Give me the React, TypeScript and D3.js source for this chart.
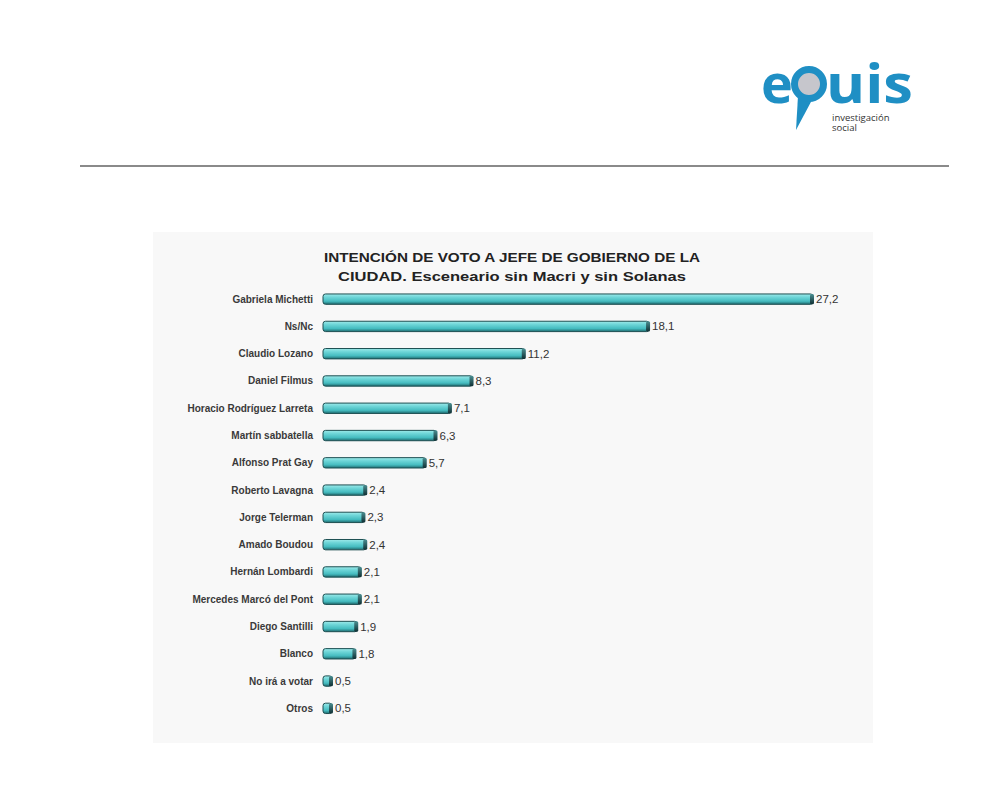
import React from "react";
import * as d3 from "d3";

const categories = [
  "Gabriela Michetti",
  "Ns/Nc",
  "Claudio Lozano",
  "Daniel Filmus",
  "Horacio Rodríguez Larreta",
  "Martín sabbatella",
  "Alfonso Prat Gay",
  "Roberto Lavagna",
  "Jorge Telerman",
  "Amado Boudou",
  "Hernán Lombardi",
  "Mercedes Marcó del Pont",
  "Diego Santilli",
  "Blanco",
  "No irá a votar",
  "Otros",
];
const values = [27.2, 18.1, 11.2, 8.3, 7.1, 6.3, 5.7, 2.4, 2.3, 2.4, 2.1, 2.1, 1.9, 1.8, 0.5, 0.5];
const titleLines = [
  "INTENCIÓN DE VOTO A JEFE DE GOBIERNO DE LA",
  "CIUDAD.  Esceneario sin Macri y sin Solanas",
];

export default function App() {
  const W = 1000;
  const H = 799;
  const x0 = 323;
  const x = d3.scaleLinear().domain([0, 27.2]).range([x0, 813]);
  const y = d3
    .scaleBand<string>()
    .domain(categories)
    .range([285.5, 722])
    .paddingInner(0.62)
    .paddingOuter(0.31);
  const bh = y.bandwidth();
  const fmt = (v: number) => d3.format(".1f")(v).replace(".", ",");
  const blue = "#1f8fc4";

  return (
    <svg
      width={W}
      height={H}
      style={{ position: "absolute", left: 0, top: 0, background: "#fff" }}
      fontFamily="Arial, 'Liberation Sans', sans-serif"
    >
      <defs>
        <linearGradient id="barGrad" x1="0" y1="0" x2="0" y2="1">
          <stop offset="0" stopColor="#9feaea" />
          <stop offset="0.3" stopColor="#6fd6d8" />
          <stop offset="0.7" stopColor="#45bcc0" />
          <stop offset="1" stopColor="#1f6a6e" />
        </linearGradient>
        <linearGradient id="capGrad" x1="0" y1="0" x2="0" y2="1">
          <stop offset="0" stopColor="#4a8f92" />
          <stop offset="1" stopColor="#102f33" />
        </linearGradient>
      </defs>

      {/* Logo */}
      <g>
        <text x={761} y={103} fontSize={54} fontWeight={700} fill={blue} fontFamily="'Open Sans', Arial, sans-serif">e</text>
        <path d="M798,96 L796,130 L812,100 Z" fill={blue} />
        <circle cx={809} cy={84} r={14.5} fill="#c6c6cc" stroke={blue} strokeWidth={7} />
        <text x={826} y={103} fontSize={54} fontWeight={700} fill={blue} textLength={87} lengthAdjust="spacingAndGlyphs" fontFamily="'Open Sans', Arial, sans-serif">uis</text>
        <text x={832} y={121} fontSize={9.5} fill="#333" fontFamily="'Open Sans', Arial, sans-serif">investigación</text>
        <text x={832} y={131} fontSize={9.5} fill="#333" fontFamily="'Open Sans', Arial, sans-serif">social</text>
      </g>

      {/* separator */}
      <line x1={80} x2={949} y1={166} y2={166} stroke="#8a8a8a" strokeWidth={2} />

      {/* chart panel */}
      <rect x={153} y={232} width={720} height={511} fill="#f8f8f8" />

      {/* title */}
      {titleLines.map((t, i) => (
        <text
          key={i}
          x={512}
          y={262 + i * 19}
          textAnchor="middle"
          fontSize={13.5}
          fontWeight={700}
          fill="#222"
          textLength={i === 0 ? 376 : 348}
          lengthAdjust="spacingAndGlyphs"
        >
          {t}
        </text>
      ))}

      {/* bars */}
      {categories.map((c, i) => {
        const yy = y(c)!;
        const xe = x(values[i]);
        return (
          <g key={c}>
            <text
              x={313}
              y={yy + bh / 2 + 3.5}
              textAnchor="end"
              fontSize={10}
              fontWeight={700}
              fill="#3a3a3a"
            >
              {c}
            </text>
            <rect
              x={x0}
              y={yy}
              width={xe - x0}
              height={bh}
              rx={2.5}
              fill="url(#barGrad)"
              stroke="#1d4f52"
              strokeWidth={1}
            />
            <rect x={xe - 3} y={yy} width={4} height={bh} rx={1.5} fill="url(#capGrad)" />
            <text
              x={xe + 3}
              y={yy + bh / 2 + 4}
              fontSize={11.5}
              fill="#333"
            >
              {fmt(values[i])}
            </text>
          </g>
        );
      })}
    </svg>
  );
}
